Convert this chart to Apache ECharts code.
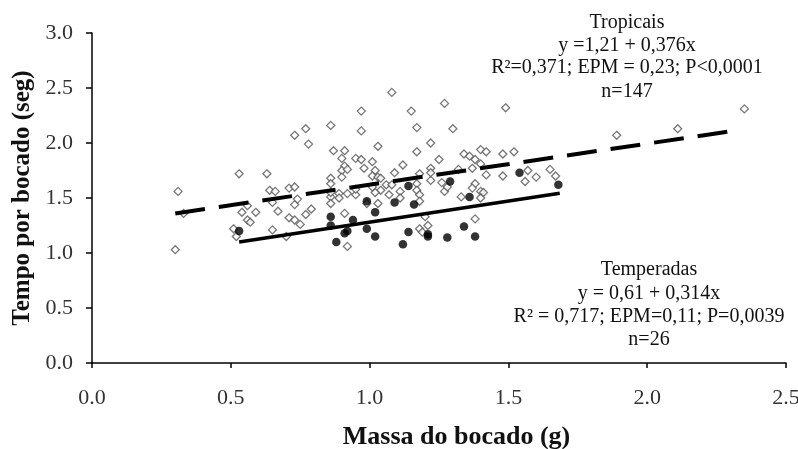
<!DOCTYPE html>
<html>
<head>
<meta charset="utf-8">
<script src="https://cdn.jsdelivr.net/npm/echarts@6/dist/echarts.min.js"></script>
<style>html,body{margin:0;padding:0;background:#fff;}#c{width:798px;height:449px;}</style>
</head>
<body>
<div id="c"></div>
<script>
// Tropicais (open diamonds): [massa (g), tempo (seg)]
const tropicais = [
[0.30,1.03],[0.31,1.56],[0.33,1.36],[0.51,1.22],[0.52,1.15],[0.53,1.72],[0.54,1.37],[0.56,1.43],[0.56,1.30],[0.57,1.28],
[0.59,1.37],[0.63,1.72],[0.64,1.57],[0.65,1.46],[0.65,1.21],[0.66,1.56],[0.67,1.38],[0.70,1.15],[0.71,1.59],[0.71,1.32],
[0.73,1.44],[0.73,1.60],[0.73,1.30],[0.74,1.49],[0.75,1.26],[0.73,2.07],[0.77,2.13],[0.78,1.99],[0.77,1.35],[0.79,1.40],
[0.86,2.16],[0.86,1.68],[0.86,1.63],[0.86,1.51],[0.86,1.45],[0.87,1.93],[0.91,1.36],[0.92,1.06],[0.97,2.29],[0.97,2.11],
[1.15,2.29],[1.17,2.14],[1.03,1.97],[1.22,2.00],[1.17,1.92],[0.91,1.93],[0.90,1.86],[0.91,1.79],[0.95,1.86],[0.97,1.85],
[1.01,1.83],[0.90,1.75],[0.92,1.76],[0.90,1.69],[0.98,1.77],[1.02,1.75],[1.01,1.70],[1.03,1.69],[1.09,1.73],[1.12,1.80],
[1.22,1.77],[1.25,1.85],[1.22,1.66],[1.26,1.64],[1.06,1.62],[1.08,1.62],[1.04,1.57],[1.02,1.55],[1.17,1.63],[1.17,1.57],
[1.18,1.53],[1.27,1.56],[0.95,1.53],[0.92,1.54],[0.89,1.54],[0.89,1.50],[1.07,1.53],[1.11,1.56],[1.11,1.50],[0.99,1.45],
[1.03,1.45],[1.18,1.47],[1.20,1.33],[1.18,1.22],[1.19,1.19],[1.21,1.25],[1.08,2.46],[1.27,2.36],[1.30,2.13],[1.49,2.32],
[1.34,1.90],[1.36,1.88],[1.40,1.94],[1.42,1.92],[1.38,1.85],[1.40,1.81],[1.48,1.90],[1.52,1.92],[1.32,1.76],[1.37,1.77],
[1.42,1.71],[1.48,1.70],[1.57,1.75],[1.60,1.69],[1.56,1.65],[1.65,1.76],[1.67,1.70],[1.28,1.60],[1.38,1.63],[1.37,1.59],
[1.33,1.51],[1.40,1.56],[1.41,1.55],[1.40,1.50],[1.38,1.31],[1.22,1.73],[1.18,1.72],[1.89,2.07],[2.11,2.13],[2.35,2.31],
[0.86,1.55],[0.95,1.58],[1.04,1.68],[1.01,1.60]
];
// Temperadas (filled circles)
const temperadas = [
[0.53,1.20],[0.86,1.33],[0.86,1.25],[0.88,1.10],[0.91,1.18],[0.92,1.20],[0.94,1.30],[0.99,1.22],[1.02,1.15],[1.02,1.37],
[0.99,1.47],[1.09,1.46],[1.14,1.61],[1.16,1.44],[1.14,1.19],[1.12,1.08],[1.21,1.15],[1.21,1.17],[1.28,1.14],[1.29,1.65],
[1.34,1.24],[1.36,1.51],[1.38,1.15],[1.54,1.73],[1.68,1.62]
];
// Regression lines as drawn (endpoints)
const lineTropicais = [[0.30,1.36],[2.31,2.11]];
const lineTemperadas = [[0.53,1.10],[1.685,1.543]];

const textTropicais = ['Tropicais','y =1,21 + 0,376x','R²=0,371; EPM = 0,23; P<0,0001','n=147'];
const textTemperadas = ['Temperadas','y = 0,61 + 0,314x','R² = 0,717; EPM=0,11; P=0,0039','n=26'];

const serif = '"Liberation Serif", "Times New Roman", serif';
const chart = echarts.init(document.getElementById('c'), null, {renderer:'canvas'});

const graphics = [];
textTropicais.forEach((t,i)=>graphics.push({type:'text', x:627, y:[23,46,68,92][i], style:{text:t, fill:'#111', font:'20px '+serif, textAlign:'center', textVerticalAlign:'middle'}, z:10}));
textTemperadas.forEach((t,i)=>graphics.push({type:'text', x:649, y:[270,294,317,340][i], style:{text:t, fill:'#111', font:'20px '+serif, textAlign:'center', textVerticalAlign:'middle'}, z:10}));

chart.setOption({
  animation:false,
  backgroundColor:'#fff',
  grid:{left:92, right:12, top:33, bottom:86, containLabel:false, outerBoundsMode:'none'},
  xAxis:{
    type:'value', min:0, max:2.5, interval:0.5,
    name:'Massa do bocado (g)', nameLocation:'middle', nameGap:61,
    nameTextStyle:{fontFamily:serif, fontWeight:'bold', fontSize:26, color:'#111', padding:[0,0,0,35]},
    axisLine:{lineStyle:{color:'#000', width:1.5}},
    axisTick:{show:true, length:5, lineStyle:{color:'#000', width:1.5}},
    axisLabel:{margin:24, fontFamily:serif, fontSize:22, color:'#333', formatter:v=>v.toFixed(1)},
    splitLine:{show:false}
  },
  yAxis:{
    type:'value', min:0, max:3, interval:0.5,
    name:'Tempo por bocado (seg)', nameLocation:'middle', nameGap:57,
    nameTextStyle:{fontFamily:serif, fontWeight:'bold', fontSize:25, color:'#111'},
    axisLine:{show:true, lineStyle:{color:'#000', width:1.5}},
    axisTick:{show:true, length:6, lineStyle:{color:'#000', width:1.5}},
    axisLabel:{margin:19, fontFamily:serif, fontSize:22, color:'#333', formatter:v=>v.toFixed(1)},
    splitLine:{show:false}
  },
  series:[
    {type:'scatter', data:tropicais, symbol:'diamond', symbolSize:8,
     itemStyle:{color:'#fff', borderColor:'#555', borderWidth:1.3}, z:2},
    {type:'scatter', data:temperadas, symbol:'circle', symbolSize:8.5,
     itemStyle:{color:'#000'}, z:3},
    {type:'line', data:lineTropicais, symbol:'none', z:4,
     lineStyle:{color:'#000', width:4, type:[30,14]}},
    {type:'line', data:lineTemperadas, symbol:'none', z:4,
     lineStyle:{color:'#000', width:3.5}}
  ],
  graphic:graphics
});
</script>
</body>
</html>
